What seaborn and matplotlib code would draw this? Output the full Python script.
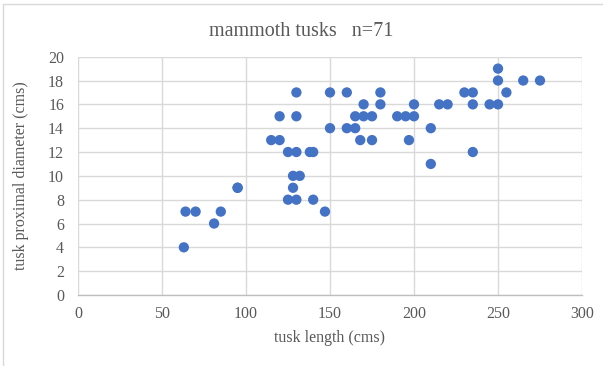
import matplotlib
matplotlib.use("Agg")
import matplotlib.pyplot as plt
import seaborn as sns
import pandas as pd
from matplotlib.lines import Line2D

# Tusk measurements (length in cm, proximal diameter in cm)
tusk_length = [63, 64, 70, 81, 85, 95, 95, 115, 120, 120, 125, 130, 130, 130,
               128, 132, 128, 125, 130, 138, 140, 140, 147,
               150, 150, 160, 160, 165, 165, 168, 170, 170, 175, 175, 180, 180,
               190, 195, 197, 200, 200, 210, 210, 215, 220, 230, 235, 235, 235,
               245, 250, 250, 250, 255, 265, 275]
tusk_diameter = [4, 7, 7, 6, 7, 9, 9, 13, 13, 15, 12, 12, 17, 15,
                 10, 10, 9, 8, 8, 12, 12, 8, 7,
                 17, 14, 17, 14, 14, 15, 13, 16, 15, 15, 13, 17, 16,
                 15, 15, 13, 15, 16, 14, 11, 16, 16, 17, 17, 16, 12,
                 16, 16, 18, 19, 17, 18, 18]
x_ticks = [0, 50, 100, 150, 200, 250, 300]
y_ticks = [0, 2, 4, 6, 8, 10, 12, 14, 16, 18, 20]

df = pd.DataFrame({"length": tusk_length, "diameter": tusk_diameter})

sns.set_theme(style="white")
plt.rcParams["font.family"] = ["Liberation Serif", "DejaVu Serif"]

W, H, DPI = 603, 366, 100
fig = plt.figure(figsize=(W / DPI, H / DPI), dpi=DPI)
ax = fig.add_axes([78 / W, 1 - 295 / H, (582 - 78) / W, (295 - 56.7) / H])

text_color = "#595959"
grid_color = "#D9D9D9"

sns.scatterplot(data=df, x="length", y="diameter", ax=ax, color="#4472C4",
                s=55, edgecolor="none", zorder=3)

ax.set_xlim(0, 300)
ax.set_ylim(0, 20)
ax.set_xticks(x_ticks)
ax.set_yticks(y_ticks)
ax.set_xticklabels([str(t) for t in x_ticks])
ax.set_yticklabels([str(t) for t in y_ticks])
ax.grid(True, color=grid_color, linewidth=1.0)
ax.set_axisbelow(True)
for side in ["top", "right", "left"]:
    ax.spines[side].set_visible(False)
ax.spines["bottom"].set_color("#BFBFBF")
ax.spines["bottom"].set_linewidth(1.0)
ax.tick_params(axis="both", length=0, labelsize=11.5, colors=text_color)
ax.tick_params(axis="x", pad=8)
ax.tick_params(axis="y", pad=10)

ax.set_xlabel("tusk length (cms)", fontsize=11.5, color=text_color, labelpad=6)
ax.set_ylabel("tusk proximal diameter (cms)", fontsize=11.5, color=text_color,
              labelpad=14)

fig.text(0.5, 1 - 32 / H, "mammoth tusks   n=71", ha="center", va="center",
         fontsize=14.5, color=text_color)

# Chart frame
frame_kw = dict(color=grid_color, linewidth=1.0, transform=fig.transFigure)
fig.add_artist(Line2D([3.5 / W, 3.5 / W], [1 - 3.5 / H, 0], **frame_kw))
fig.add_artist(Line2D([3.5 / W, 1], [1 - 3.5 / H, 1 - 3.5 / H], **frame_kw))

fig.savefig("out.png", dpi=DPI)
